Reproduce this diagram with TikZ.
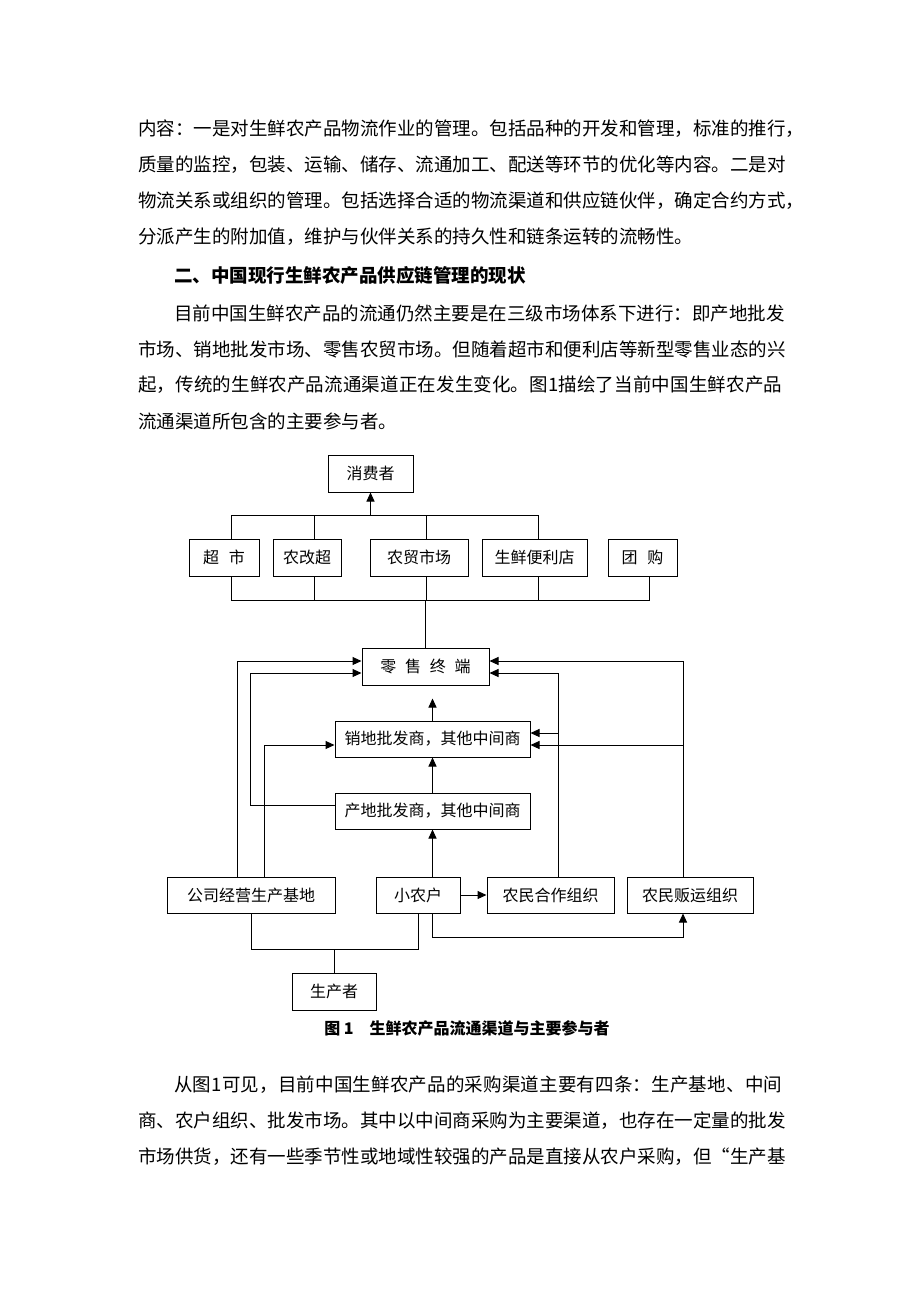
\documentclass[tikz,border=0pt]{standalone}
\usepackage{fontspec}
\setmainfont{Noto Sans CJK SC}
\usetikzlibrary{arrows.meta}

% spread the characters of one line over a given width
\def\spreadline#1#2{\hbox to #1{\sprfirst#2\relax}}
\def\sprfirst#1{#1\sprnext}
\def\sprnext#1{\ifx#1\relax\else\hfil#1\expandafter\sprnext\fi}

\begin{document}
\begin{tikzpicture}[x=1pt, y=-1pt,
    box/.style={rectangle, draw, line width=1pt, minimum height=36pt, inner sep=0pt, font=\fontsize{16pt}{18pt}\selectfont},
    arrow/.style={-{Triangle[length=9pt,width=8pt]}, line width=1pt},
    conn/.style={line width=1pt},
    txt/.style={anchor=west, inner sep=0pt, font=\fontsize{18.5pt}{22pt}\selectfont}
]
\useasboundingbox[fill=white] (0,0) rectangle (920,1302);

% Text above the figure
\node[txt] (p1a) at (138,129) {\spreadline{644pt}{内容：一是对生鲜农产品物流作业的管理。包括品种的开发和管理，标准的推行，}};
\node[txt] (p1b) at (138,165) {\spreadline{644pt}{质量的监控，包装、运输、储存、流通加工、配送等环节的优化等内容。二是对}};
\node[txt] (p1c) at (138,201) {\spreadline{644pt}{物流关系或组织的管理。包括选择合适的物流渠道和供应链伙伴，确定合约方式，}};
\node[txt] (p1d) at (138,237) {分派产生的附加值，维护与伙伴关系的持久性和链条运转的流畅性。};
\node[txt, font=\bfseries\fontsize{18.5pt}{22pt}\selectfont] (head) at (174,275) {二、中国现行生鲜农产品供应链管理的现状};
\node[txt] (p2a) at (174,313) {\spreadline{608pt}{目前中国生鲜农产品的流通仍然主要是在三级市场体系下进行：即产地批发}};
\node[txt] (p2b) at (138,349) {\spreadline{644pt}{市场、销地批发市场、零售农贸市场。但随着超市和便利店等新型零售业态的兴}};
\node[txt] (p2c) at (138,385) {\spreadline{644pt}{起，传统的生鲜农产品流通渠道正在发生变化。图1描绘了当前中国生鲜农产品}};
\node[txt] (p2d) at (138,421) {流通渠道所包含的主要参与者。};

% Consumer and retail forms
\node[box, minimum width=85pt, minimum height=37pt] (cons) at (370.5,473.5) {消费者};
\node[box, minimum width=70pt, minimum height=37pt] (sm) at (224,557.5) {超\hspace{0.6em}市};
\node[box, minimum width=68pt, minimum height=37pt] (ngc) at (307,557.5) {农改超};
\node[box, minimum width=98pt, minimum height=37pt] (nmsc) at (419,557.5) {农贸市场};
\node[box, minimum width=105pt, minimum height=37pt] (sxbl) at (534.5,557.5) {生鲜便利店};
\node[box, minimum width=69pt, minimum height=37pt] (tg) at (642.5,557.5) {团\hspace{0.6em}购};

% Terminal and middlemen
\node[box, minimum width=127pt, minimum height=37pt] (ls) at (425.5,666.5) {零\hspace{0.55em}售\hspace{0.55em}终\hspace{0.55em}端};
\node[box, minimum width=195pt] (xd) at (432.5,739) {销地批发商，其他中间商};
\node[box, minimum width=195pt] (cd) at (432.5,811) {产地批发商，其他中间商};

% Producers
\node[box, minimum width=168pt] (gs) at (251,895) {公司经营生产基地};
\node[box, minimum width=84pt] (xnh) at (418,895) {小农户};
\node[box, minimum width=127pt] (hz) at (550.5,895) {农民合作组织};
\node[box, minimum width=126pt] (fy) at (690,895) {农民贩运组织};
\node[box, minimum width=84pt, minimum height=37pt] (scz) at (334,991.5) {生产者};

% Upper bus to consumer
\coordinate (tbus) at (0,516);
\draw[conn] ([xshift=7pt]sm.north) -- ++(0,-23) -| ([xshift=4pt]sxbl.north);
\foreach \n in {ngc,nmsc}
  \draw[conn] ([xshift=7pt]\n.north) -- ++(0,-23);
\draw[arrow] (cons.south |- tbus) -- (cons.south);

% Lower bus to retail terminal
\coordinate (bbus) at (0,600);
\draw[conn] ([xshift=7pt]sm.south) -- ++(0,24) -| ([xshift=7pt]tg.south);
\foreach \n in {ngc,nmsc}
  \draw[conn] ([xshift=7pt]\n.south) -- ++(0,24);
\draw[conn] ([xshift=4pt]sxbl.south) -- ++(0,24);
\draw[conn] (ls.north |- bbus) -- (ls.north);

% Channels into the terminal
\draw[arrow] ([xshift=-14pt]gs.north) |- ([yshift=5.5pt]ls.west);
\draw[arrow] ([yshift=6pt]cd.west) -- ++(-84,0) |- ([yshift=-6.5pt]ls.west);
\draw[arrow] ([xshift=7.5pt]hz.north) |- ([yshift=-6.5pt]ls.east);
\draw[arrow] ([xshift=-7pt]fy.north) |- ([yshift=5.5pt]ls.east);
\draw[arrow, shorten >=13pt] (xd.north) -- (xd.north |- ls.south);

% Channels into the wholesalers
\draw[arrow] ([xshift=13pt]gs.north) |- ([yshift=-6pt]xd.west);
\draw[arrow] ([xshift=28pt,yshift=6pt]xd.east) -- ([yshift=6pt]xd.east);
\draw[arrow] ([xshift=153pt,yshift=-6pt]xd.east) -- ([yshift=-6pt]xd.east);
\draw[arrow] (cd.north) -- (xd.south);
\draw[arrow] (xnh.north -| cd.south) -- (cd.south);

% Small farmers
\draw[arrow] (xnh.east) -- (hz.west);
\draw[arrow] (xnh.south -| cd.south) -- ++(0,24) -| ([xshift=-7pt]fy.south);
\draw[conn] (gs.south) -- ++(0,36) -| (xnh.south);
\draw[conn] (scz.north) -- ++(0,-24);

\node[font=\bfseries\fontsize{16pt}{18pt}\selectfont] (cap) at (467,1028) {图 1\hspace{1em}生鲜农产品流通渠道与主要参与者};

% Text below the figure
\node[txt] (p3a) at (174,1085) {\spreadline{608pt}{从图1可见，目前中国生鲜农产品的采购渠道主要有四条：生产基地、中间}};
\node[txt] (p3b) at (138,1121) {\spreadline{644pt}{商、农户组织、批发市场。其中以中间商采购为主要渠道，也存在一定量的批发}};
\node[txt] (p3c) at (138,1157) {\spreadline{644pt}{市场供货，还有一些季节性或地域性较强的产品是直接从农户采购，但“生产基}};
\end{tikzpicture}
\end{document}
